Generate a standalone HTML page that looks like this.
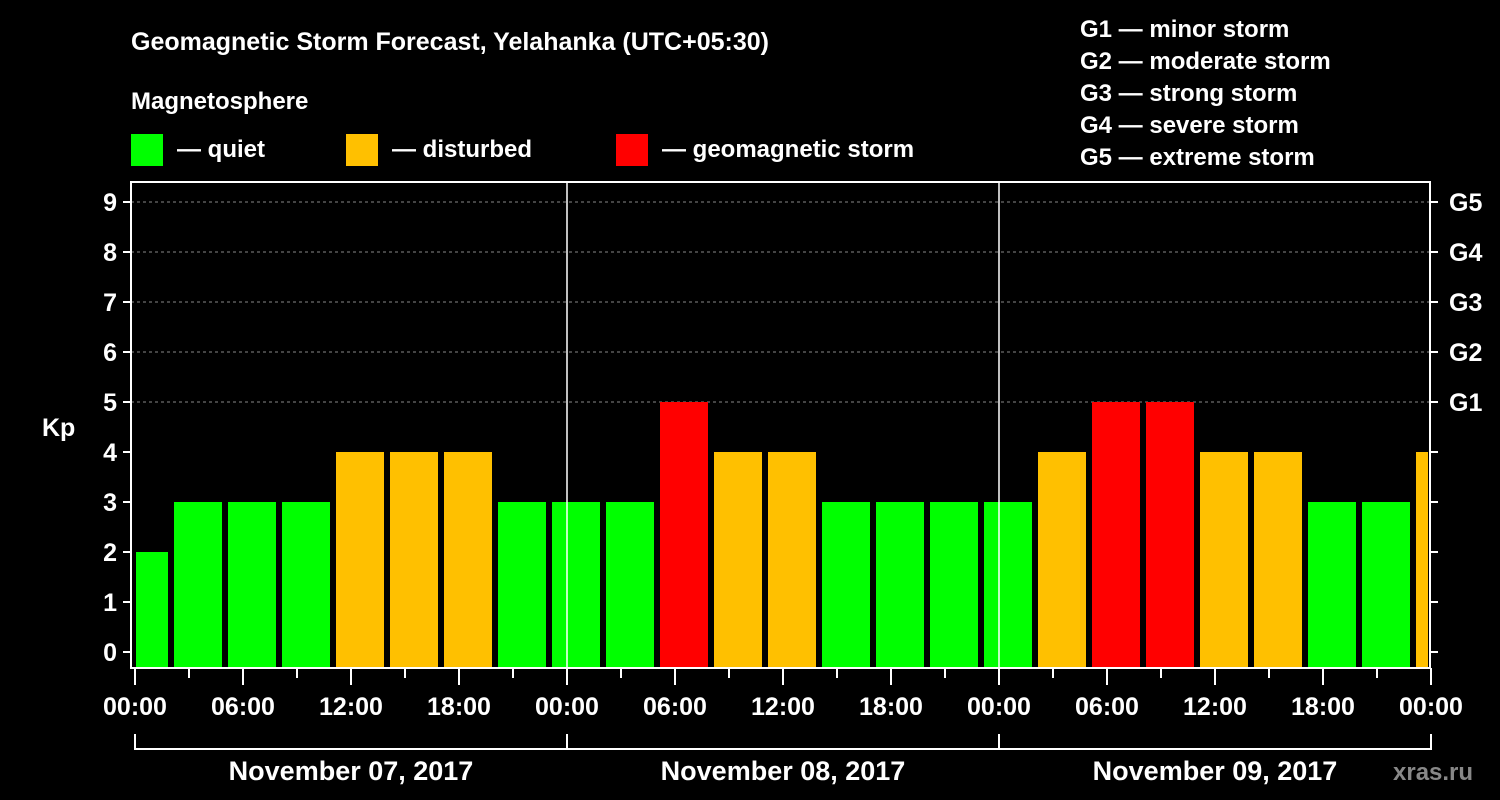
<!DOCTYPE html>
<html><head><meta charset="utf-8"><style>
body{margin:0;background:#000;}
svg{display:block;font-family:"Liberation Sans",sans-serif;font-weight:bold;}
</style></head><body>
<svg id="chart" width="1500" height="800" viewBox="0 0 1500 800">
<rect x="0" y="0" width="1500" height="800" fill="#000"/>
<text x="131" y="50" fill="#fff" font-size="25">Geomagnetic Storm Forecast, Yelahanka (UTC+05:30)</text>
<text x="131" y="109" fill="#fff" font-size="24">Magnetosphere</text>
<g><rect x="131" y="134" width="32" height="32" fill="#00ff00"/><text x="177" y="157" fill="#fff" font-size="24">— quiet</text></g>
<g><rect x="346" y="134" width="32" height="32" fill="#ffc000"/><text x="392" y="157" fill="#fff" font-size="24">— disturbed</text></g>
<g><rect x="616" y="134" width="32" height="32" fill="#ff0000"/><text x="662" y="157" fill="#fff" font-size="24">— geomagnetic storm</text></g>
<g fill="#fff" font-size="24">
<text x="1080" y="37">G1 — minor storm</text>
<text x="1080" y="69">G2 — moderate storm</text>
<text x="1080" y="101">G3 — strong storm</text>
<text x="1080" y="133">G4 — severe storm</text>
<text x="1080" y="165">G5 — extreme storm</text>
</g>
<text x="42" y="436" fill="#fff" font-size="25">Kp</text>
<text x="1393" y="780" fill="#888" font-size="24">xras.ru</text>
<g id="plot"></g>
</svg>
<script>
const kpValues=[2,3,3,3,4,4,4,3,3,3,5,4,4,3,3,3,3,4,5,5,4,4,3,3,4];
const yTicks=[0,1,2,3,4,5,6,7,8,9];
const gLabels=["G1","G2","G3","G4","G5"];
const gLevels=[5,6,7,8,9];
const xTickLabels=["00:00","06:00","12:00","18:00","00:00","06:00","12:00","18:00","00:00","06:00","12:00","18:00","00:00"];
const dayLabels=["November 07, 2017","November 08, 2017","November 09, 2017"];
const firstSlotStartHour=-1; // slot boundaries at 02:00 local + 3h
const NS="http://www.w3.org/2000/svg";
const L=131,R=1430,T=182,B=668,X0=135,PXH=18;
const xs=h=>X0+h*PXH, ys=v=>652-v*50;
const plot=document.getElementById('plot');
function mk(tag,attrs,parent){const e=document.createElementNS(NS,tag);for(const k in attrs)e.setAttribute(k,attrs[k]);(parent||plot).appendChild(e);return e;}
// grid
yTicks.forEach(v=>{if(v>=5){const g=mk('line',{x1:L,x2:R,y1:ys(v),y2:ys(v),stroke:'#888','stroke-dasharray':'3,3','stroke-width':1});

}});
// bars
kpValues.forEach((v,i)=>{
 let h0=firstSlotStartHour+3*i;
 let x1=xs(h0)+3,x2=xs(h0+3)-3;
 x1=Math.max(x1,L+5);x2=Math.min(x2,R-2);
 const c=v>=5?'#ff0000':(v>=4?'#ffc000':'#00ff00');
 const r=mk('rect',{x:x1,y:ys(v),width:x2-x1,height:B-1-ys(v),fill:c});
 
 
});
// day separators
[24,48].forEach(h=>{const l=mk('line',{x1:xs(h),x2:xs(h),y1:T,y2:B,stroke:'#fff','stroke-width':1.5});

});
// frame
const fr=mk('rect',{x:L,y:T,width:R-L,height:B-T,fill:'none',stroke:'#fff','stroke-width':2});


// y ticks
yTicks.forEach(v=>{
 mk('line',{x1:L-8,x2:L,y1:ys(v),y2:ys(v),stroke:'#fff','stroke-width':2});
 mk('line',{x1:R,x2:R+8,y1:ys(v),y2:ys(v),stroke:'#fff','stroke-width':2});
 const t=mk('text',{x:L-14,y:ys(v)+9,fill:'#fff','font-size':25,'text-anchor':'end'});t.textContent=v;
 
 
});
gLabels.forEach((g,i)=>{const t=mk('text',{x:R+19,y:ys(gLevels[i])+9,fill:'#fff','font-size':25});t.textContent=g;
 
 });
// x ticks
for(let h=0;h<=72;h+=3){const major=h%6===0;mk('line',{x1:xs(h),x2:xs(h),y1:B,y2:major?685:678,stroke:'#fff','stroke-width':2});}
xTickLabels.forEach((s,i)=>{const t=mk('text',{x:xs(i*6),y:715,fill:'#fff','font-size':25,'text-anchor':'middle'});t.textContent=s;
 
 });
// day brackets
mk('line',{x1:xs(0),x2:xs(72),y1:749,y2:749,stroke:'#fff','stroke-width':2});
for(let d=0;d<=3;d++)mk('line',{x1:xs(d*24),x2:xs(d*24),y1:734,y2:750,stroke:'#fff','stroke-width':2});
dayLabels.forEach((s,i)=>{const t=mk('text',{x:xs(i*24+12),y:780,fill:'#fff','font-size':27,'text-anchor':'middle'});t.textContent=s;
 
 });
</script>
</body></html>
